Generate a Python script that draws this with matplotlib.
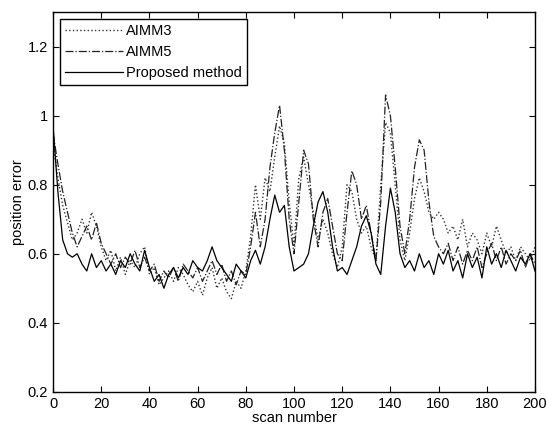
import matplotlib
matplotlib.use('Agg')
import matplotlib.pyplot as plt
import numpy as np

plt.rcParams['font.family'] = ['Liberation Sans', 'DejaVu Sans']

scan = np.arange(0, 201, 2)

aimm3 = [0.92, 0.82, 0.74, 0.69, 0.64, 0.66, 0.70, 0.66, 0.72, 0.68, 0.62,
         0.58, 0.61, 0.55, 0.59, 0.54, 0.58, 0.56, 0.60, 0.62, 0.54,
         0.56, 0.51, 0.53, 0.55, 0.52, 0.56, 0.54, 0.51, 0.49, 0.52,
         0.48, 0.53, 0.56, 0.50, 0.53, 0.49, 0.47, 0.52, 0.50, 0.55,
         0.65, 0.80, 0.70, 0.82, 0.78, 0.88, 0.97, 0.92, 0.75, 0.62,
         0.82, 0.88, 0.80, 0.72, 0.64, 0.70, 0.66, 0.60, 0.56, 0.62,
         0.80, 0.78, 0.70, 0.66, 0.68, 0.62, 0.58, 0.80, 0.98, 0.95,
         0.80, 0.64, 0.58, 0.66, 0.76, 0.82, 0.78, 0.72, 0.70, 0.72,
         0.70, 0.66, 0.68, 0.64, 0.70, 0.62, 0.66, 0.64, 0.60, 0.66,
         0.62, 0.68, 0.64, 0.60, 0.62, 0.58, 0.62, 0.60, 0.58, 0.62]

aimm5 = [0.95, 0.86, 0.78, 0.72, 0.66, 0.62, 0.65, 0.68, 0.64, 0.69, 0.63,
         0.60, 0.57, 0.60, 0.56, 0.59, 0.57, 0.61, 0.56, 0.59, 0.55,
         0.57, 0.52, 0.55, 0.53, 0.56, 0.52, 0.57, 0.55, 0.53, 0.56,
         0.52, 0.55, 0.58, 0.54, 0.57, 0.52, 0.55, 0.51, 0.55, 0.54,
         0.62, 0.72, 0.62, 0.70, 0.85, 0.95, 1.03, 0.90, 0.70, 0.60,
         0.75, 0.90, 0.86, 0.70, 0.62, 0.72, 0.76, 0.68, 0.60, 0.58,
         0.72, 0.84, 0.80, 0.70, 0.74, 0.66, 0.58, 0.75, 1.06, 1.00,
         0.85, 0.68, 0.60, 0.70, 0.85, 0.93, 0.90, 0.75, 0.65, 0.62,
         0.60, 0.63, 0.58, 0.62, 0.57, 0.61, 0.58, 0.62, 0.56, 0.60,
         0.63, 0.58, 0.62, 0.57, 0.60, 0.58, 0.61, 0.56, 0.60, 0.57]

proposed = [0.97, 0.78, 0.64, 0.60, 0.59, 0.60, 0.57, 0.55, 0.60, 0.56, 0.58,
            0.55, 0.57, 0.54, 0.58, 0.56, 0.60, 0.57, 0.55, 0.61, 0.56,
            0.52, 0.54, 0.50, 0.54, 0.56, 0.53, 0.56, 0.54, 0.58, 0.56,
            0.55, 0.58, 0.62, 0.58, 0.56, 0.54, 0.52, 0.57, 0.55, 0.53,
            0.58, 0.61, 0.57, 0.62, 0.70, 0.77, 0.72, 0.74, 0.62, 0.55,
            0.56, 0.57, 0.60, 0.68, 0.75, 0.78, 0.72, 0.62, 0.55, 0.56,
            0.54, 0.58, 0.62, 0.68, 0.71, 0.66, 0.57, 0.54, 0.68, 0.79,
            0.72, 0.60, 0.56, 0.58, 0.55, 0.60, 0.56, 0.58, 0.54, 0.60,
            0.57, 0.61, 0.55, 0.58, 0.53, 0.60, 0.56, 0.59, 0.53, 0.62,
            0.57, 0.60, 0.56, 0.61, 0.58, 0.55, 0.59, 0.57, 0.60, 0.55]

xticks = list(range(0, 201, 20))
yticks = [0.2, 0.4, 0.6, 0.8, 1.0, 1.2]
ytick_labels = ['0.2', '0.4', '0.6', '0.8', '1', '1.2']

fig = plt.figure(figsize=(5.47, 4.32), dpi=100)
ax = fig.add_axes([0.097, 0.093, 0.881, 0.879])

ax.plot(scan, aimm3, color='#333333', linestyle=':', linewidth=1.0, label='AIMM3')
ax.plot(scan, aimm5, color='#222222', linestyle='-.', linewidth=0.9, label='AIMM5')
ax.plot(scan, proposed, color='black', linestyle='-', linewidth=0.9, label='Proposed method')

ax.set_xlim(0, 200)
ax.set_ylim(0.2, 1.3)
ax.set_xticks(xticks)
ax.set_yticks(yticks)
ax.set_yticklabels(ytick_labels)
ax.tick_params(direction='in', top=True, right=True, labelsize=10.5, length=4)
for s in ax.spines.values():
    s.set_linewidth(1.0)

ax.set_xlabel('scan number', fontsize=10.5, labelpad=0)
ax.set_ylabel('position error', fontsize=10.5, labelpad=2)

leg = ax.legend(loc='upper left', fontsize=10.5, fancybox=False, edgecolor='black',
                handlelength=4.0, borderaxespad=0.45, labelspacing=0.5,
                borderpad=0.35, handletextpad=0.2, framealpha=1)
leg.get_frame().set_linewidth(1.0)

fig.savefig('out.png', dpi=100)
